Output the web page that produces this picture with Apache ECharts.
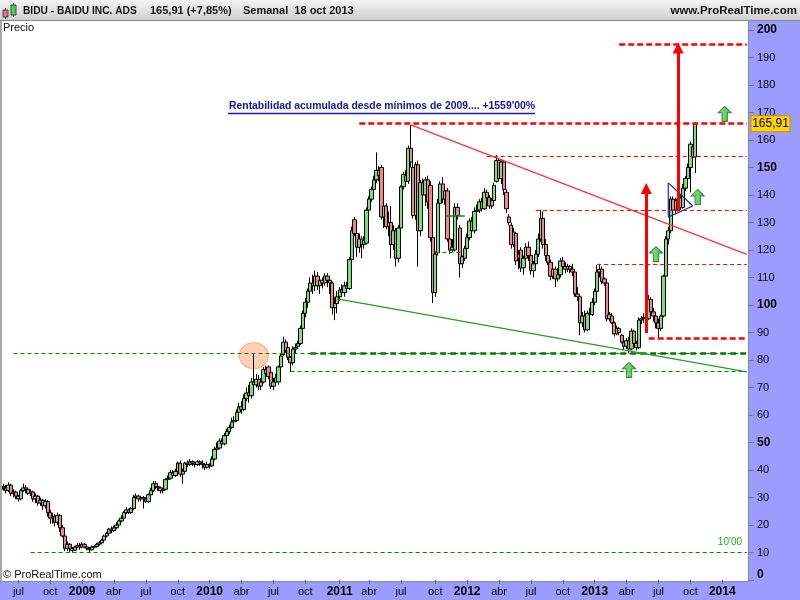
<!DOCTYPE html>
<html><head><meta charset="utf-8">
<script src="https://cdn.jsdelivr.net/npm/echarts/dist/echarts.min.js"></script>
<style>html,body{margin:0;padding:0;background:#fff}#c{width:800px;height:600px}</style>
</head><body><div id="c"></div>
<script>
// ---------- DATA ----------
const firstWeek = [2008, 4, 16];   // first weekly bar (Friday 16 May 2008)
const weekTotal = 305;             // weekly categories shown on the axis (incl. empty future weeks)
const monthNames = {4: 'abr', 7: 'jul', 10: 'oct'};
const lastClose = 165.91;

// weekly candles: [open, close, low, high]
const candles = [
[33,34,32,35],[34,33.5,32.5,35],[33.5,32.5,31.5,34.5],[32.5,34.5,32,35.5],[34.5,31.5,30.5,35],
[31.5,32,30,33],[32,30.5,29.5,32.5],[30.5,29.5,28.5,31],[29.5,32.5,29,33],[32.5,33.5,32,35],
[33.5,33,31.5,34.5],[33,31.5,31,33.5],[31.5,32,30.5,33],[32,29.5,28.5,32.5],[29.5,30.5,28,31.5],
[30.5,28,27,31],[28,29,27,30],[29,27,25.5,29.5],[27,28.5,26,29.5],[28.5,24.5,23,29],
[24.5,22.5,20.5,25.5],[22.5,23,20.5,24.5],[23,21,19.5,24],[21,23.5,20,24.5],[23.5,19,17.5,24],
[19,16,15.5,20],[16,11.5,10.5,16.5],[11.5,13,10.5,14],[13,11.5,10,13.5],[11.5,10.8,10,12],
[10.8,12,10.5,12.5],[12,12.5,11.5,13.5],[12.5,12,11,13.5],[12,13,11.5,13.8],[13,12,11.5,13.5],
[12,11.5,10.8,12.5],[11.5,11,10.2,12],[11,12,10.8,12.5],[12,12.2,11.5,12.8],[12.2,13,11.8,13.5],
[13,13.5,12.5,14.2],[13.5,14.5,13,15],[14.5,16,14,16.5],[16,17,15.5,17.5],[17,18.5,16.5,19],
[18.5,18,17,19.5],[18,19,17.5,19.8],[19,20,18.5,21],[20,21.5,19.5,22],[21.5,22.5,21,23.5],
[22.5,24.5,22,25],[24.5,25.5,24,26.5],[25.5,24.5,24,26],[24.5,26,24,26.5],[26,30,25.5,31],
[30,30.5,29,31.5],[30.5,29.5,28.5,31],[29.5,30,28.5,30.5],[30,29.5,26,30.5],[29.5,28.5,28,30],
[28.5,31,28,31.5],[31,32.5,30.5,33.5],[32.5,35,32,36],[35,34,33,36],[34,33.5,32.5,35],
[33.5,32.5,31.5,34],[32.5,33,31.5,33.5],[33,36.5,32.5,37],[36.5,37,35.5,38],[37,39,36.5,40],
[39,38,37,40],[38,39.5,37.5,40.5],[39.5,42.5,39,43],[42.5,38.5,37.5,43.5],[38.5,39.5,35,40.5],
[39.5,42.5,39,43],[42.5,42,41,43.5],[42,43,41.5,44],[43,42.5,41.5,43.5],[42.5,42,41,43],
[42,43,41.5,43.5],[43,42.5,41.5,43.5],[42.5,42,40.5,43.5],[42,41,40,42.5],[41,42,40.5,43],
[42,41.5,40.5,42.5],[41.5,44,41,45],[44,47.5,43.5,48.5],[47.5,48,46.5,50],[48,50.5,47.5,51.5],
[50.5,49.5,48.5,51.5],[49.5,52.5,49,53.5],[52.5,54,51.5,55],[54,55.5,53,56.5],[55.5,57.5,55,59],
[57.5,58,56,59.5],[58,61,57.5,62],[61,63,60,64.5],[63,62,60.5,65],[62,66,61.5,67.5],
[66,68,65,70],[68,67,64.5,71],[67,72,66,73.5],[72,71,69,82.5],[71,73,70,75],
[73,70.5,69,74.5],[70.5,72,69,73.5],[72,76.5,71.5,77.5],[76.5,75,74,78],[77.5,74,73,78],
[75.5,70.5,69.5,76],[70.5,72,69,73.5],[72,73.5,71,75],[72,77.5,71,78],[77.5,81.5,77,82.5],
[82,86.5,81.5,88.5],[86.5,83.5,82.5,87.5],[84.5,81,80,85.5],[81,79,75.6,81.5],[79,84,78,85],
[84,84.5,82.5,86],[85,86,84.5,87],[86,91.5,85.5,92.5],[91.5,97,90.5,98],[97,101,95.5,102.5],
[101,105,99,106],[105,108,103.5,110],[108,107,104,111],[107,110.5,105,112.5],[110.5,107,105.5,112],
[107,109,104,110.5],[109,108,106,110],[108,110.5,107,111.5],[110.5,109,106.5,111.5],[109,108,104,110],
[108,99,96.5,108.5],[99,100.5,94.5,103],[100.5,103,97,105],[103,105.5,101.5,106.5],[105.5,104.5,103,107.5],
[104.5,107,103,108.5],[107,106,104.5,108.5],[106,116.5,105.5,117.5],[116.5,127,115.5,128.5],[131,126,125,132],
[126,121,117.5,126.5],[121,124,119,126],[124,122,117,125],[122,123.5,120.5,125],[122.5,134.5,122,135.5],
[134.5,138.5,134,139.5],[138.5,142,137.5,143],[142,145.5,141,147],[145.5,149,144.5,155.5],[149,147,145,150.5],
[150,132,131,151],[132,136,128,137.5],[136,128.5,127.5,137],[128.5,130,125,134],[130,122,117,136],
[122,127,120,129],[127,117,114,128],[117,128,115.5,129],[128,143,127,143.5],[143,147.5,142,148.5],
[147,145,143.5,149],[145,157,144,158],[157,152,150,165.5],[150,132.5,131.5,152],[132.5,151,131,152],
[151,127,114,152.5],[127,144.5,125,145.5],[144.5,140,138,146],[140,145.5,136,146.5],[145.5,137.5,135,147],
[143.5,124.5,123,145],[124.5,104.5,100.7,125.5],[104.5,118.5,103,119.5],[119,137,118,138.5],[137,144,133,145],
[144,138.5,137,146.5],[138.5,141.5,136.5,143],[141.5,124,123,142.5],[124,120,118.5,125],[121,120,119,124],
[120,135.5,119.5,137],[135.5,132.5,131,137],[128,115,110,129],[115,117.5,113.5,118],[117,120.5,116,121.5],
[120.5,124.5,119.5,126],[124.5,130.5,123.5,131.5],[130.5,127,125,132],[127,134,126,135.5],[134,134.5,132,136.5],
[134.5,137.5,133.5,138.5],[137.5,135,134,139],[135,141,134.5,142.5],[141,139,137,142],[139,136,135,140],
[136,138,135,139],[138,143.5,137,144.5],[145,152.5,144.5,154.5],[152.5,146,145,153.5],[146,152,144,153],
[152,142,140,152.5],[141,135,133.5,142],[132,130,129,133],[129,122,120.5,130],[122,126.5,121,128],
[126,116,114.5,126.5],[117,118.5,113,120],[120,113.5,112,121],[113.5,117,111,118],[117,121,115,122.5],
[121,118,116,123],[118,112.5,111,119],[112.5,115,110,116],[115,118.5,113.5,120],[118.5,124,117.5,126],
[124,131.5,123,134.5],[131.5,122,120.5,134],[122,118,116,124],[118,115.5,114.5,120],[115.5,110.5,109,116.5],
[110.5,113,109.5,114],[113,109.5,106.5,114],[109.5,111,108.5,113.5],[111,116,110,117],[116,114,112,117.5],
[114,113,111.5,115.5],[113,114,112,115],[114,113,111.5,114.5],[113,112,110.5,115],[112,104,103,112.5],
[104,103,101.5,106.5],[103,93.5,89,104],[93.5,96,92,97.5],[96,91,90,98],[91,97,90.5,98],
[97,96.5,95,99],[96.5,101,96,102.5],[101,105,100,106],[105,112,104.5,114.5],[112,113,110,115],
[113,108.5,107.5,114],[109.5,108,107,110],[108,95,94,108.5],[95,96.5,94,97.5],[96,93.5,93,97],
[93.5,89.5,88.5,94],[89.5,91.5,89,92.5],[91.5,90,89,92],[89,86.5,86,89.5],[86.5,85,83.6,87.5],
[85,87,84,88],[87,84,82.5,88.5],[84,90.5,83.5,91.5],[90.5,86,84.5,91],[86,84.5,83.5,87],
[84.5,94.5,84,95.5],[94.5,95,93,96],[95,95.5,93.5,97],[95.5,95,93,97],[95,102,94.5,103.6],
[102,97.5,96.5,103],[97.5,96,94,99],[96,93.5,91.5,97],[93.5,91.5,88,95],[91.5,96,90.5,96.5],
[96,110.5,95.5,111],[110.5,124,110,125],[124,127,122,128.5],[127,138.5,126,139.5],[138.5,134.5,132.5,139.5],
[138,134.5,133,139],[134.5,138.5,134,140],[139,135.5,134.5,140],[135.5,142.5,135,144],[142.5,146,141.5,147],
[146,150,144.5,151.5],[150,158.5,141,159.5],[157.5,153.8,153,158.5],[153.8,165.91,148,166.5]
];

// horizontal levels drawn on the chart (value, first week index, last week index, kind)
const levelValues = [195, 165.91, 154, 134.5, 115, 88, 82.5, 82.5, 76, 10, 132.6, 119.2];
const levelStarts = [252, 146, 198, 218, 243, 264, 5, 126, 118, 12, 181, 177];
const levelEnds   = [304, 304, 304, 304, 304, 304, 304, 304, 304, 304, 189, 188];
const levelKinds  = ['redThick','redThick','redThin','redThin','redThin','redThick','greenThin','greenThick','greenThin','greenThin','greenSolid','greenThin'];

// trend lines: [startWeek, startValue, endWeek, endValue]
const trendRed   = [167, 165.5, 304, 118.4];
const trendGreen = [137, 102.2, 304, 75.7];

// vertical target arrows
const arrowWeeks = [263, 276];
const arrowFrom  = [89.8, 134];
const arrowTo    = [142.4, 193.5];

// green "buy" arrows
const buyWeeks  = [256, 267, 284, 295];
const buyValues = [76.4, 118.5, 139.3, 169.5];

// blue triangle (pennant)
const triWeeks  = [272, 282, 272, 272];
const triValues = [144.4, 136, 132, 144.4];

// highlighted 2010 high
const circleWeek = 103, circleValue = 81.6;

// ---------- BUILD ----------
function buildWeeks() {
  const out = [];
  const t0 = Date.UTC(firstWeek[0], firstWeek[1], firstWeek[2]);
  for (let k = 0; k < weekTotal; k++) out.push(new Date(t0 + k * 7 * 864e5).toISOString().slice(0, 10));
  return out;
}
const weeks = buildWeeks();
function isQuarterStart(v) {
  const m = +v.slice(5, 7), d = +v.slice(8, 10);
  return d <= 7 && (m === 1 || m === 4 || m === 7 || m === 10);
}
function fmtX(v) {
  const m = +v.slice(5, 7);
  if (m === 1) return '{y|' + v.slice(0, 4) + '}';
  return monthNames[m] || '';
}

const FONT = '"Liberation Sans", Arial, sans-serif';
const styles = {
  redThick:  {color: '#ff0000', width: 2.5, type: [6, 3]},
  redThin:   {color: '#ff0000', width: 1,   type: [4, 3]},
  greenThin: {color: '#008800', width: 1.2, type: [4, 3]},
  greenThick:{color: '#007700', width: 2.5, type: [6, 4]},
  greenSolid:{color: '#118811', width: 1.5, type: 'solid'}
};

const markData = [];
levelValues.forEach((v, k) => {
  markData.push([{coord: [levelStarts[k], v], lineStyle: styles[levelKinds[k]], symbol: 'none'},
                 {coord: [levelEnds[k], v], symbol: 'none'}]);
});
markData.push([{coord: [trendRed[0], trendRed[1]], lineStyle: {color: '#ff3333', width: 1.2, type: 'solid'}, symbol: 'none'},
               {coord: [trendRed[2], trendRed[3]], symbol: 'none'}]);
markData.push([{coord: [trendGreen[0], trendGreen[1]], lineStyle: {color: '#2a9a2a', width: 1.2, type: 'solid'}, symbol: 'none'},
               {coord: [trendGreen[2], trendGreen[3]], symbol: 'none'}]);
arrowWeeks.forEach((w, k) => {
  markData.push([{coord: [w, arrowFrom[k]], lineStyle: {color: '#ff0000', width: 3, type: 'solid'}, symbol: 'none'},
                 {coord: [w, arrowTo[k]], symbol: 'triangle', symbolSize: 11}]);
});

const chart = echarts.init(document.getElementById('c'), null, {renderer: 'canvas', width: 800, height: 600});

const baseGraphics = [
  {type: 'rect', z: -5, shape: {x: 0, y: 0, width: 800, height: 20},
   style: {fill: new echarts.graphic.LinearGradient(0, 0, 0, 1, [{offset: 0, color: '#f4f4f4'}, {offset: 1, color: '#cfcfcf'}])}},
  {type: 'line', z: -4, shape: {x1: 0, y1: 20.5, x2: 800, y2: 20.5}, style: {stroke: '#8a8a8a', lineWidth: 1}},
  {type: 'rect', z: -5, shape: {x: 748, y: 21, width: 52, height: 579}, style: {fill: '#9c9cff'}},
  {type: 'rect', z: -5, shape: {x: 0, y: 581, width: 800, height: 19}, style: {fill: '#9c9cff'}},
  {type: 'line', z: -4, shape: {x1: 748.5, y1: 21, x2: 748.5, y2: 581}, style: {stroke: '#8888aa', lineWidth: 1}},
  {type: 'line', z: -4, shape: {x1: 0, y1: 581.5, x2: 749, y2: 581.5}, style: {stroke: '#8888aa', lineWidth: 1}},
  {type: 'rect', z: 50, shape: {x: 0, y: 21, width: 2, height: 560}, style: {fill: '#a8a8a8'}},
  // header icon
  {type: 'line', z: 50, shape: {x1: 5.5, y1: 8, x2: 5.5, y2: 19}, style: {stroke: '#333', lineWidth: 1}},
  {type: 'rect', z: 51, shape: {x: 3, y: 10, width: 5, height: 7}, style: {fill: '#f07070', stroke: '#444', lineWidth: 1}},
  {type: 'line', z: 50, shape: {x1: 13.5, y1: 3, x2: 13.5, y2: 17}, style: {stroke: '#333', lineWidth: 1}},
  {type: 'rect', z: 51, shape: {x: 11, y: 5, width: 5, height: 10}, style: {fill: '#50d050', stroke: '#444', lineWidth: 1}},
  {type: 'text', z: 50, style: {x: 23, y: 11, text: 'BIDU - BAIDU INC. ADS', fill: '#111', font: 'bold 10.2px ' + FONT, verticalAlign: 'middle'}},
  {type: 'text', z: 50, style: {x: 150, y: 11, text: '165,91 (+7,85%)', fill: '#111', font: 'bold 11px ' + FONT, verticalAlign: 'middle'}},
  {type: 'text', z: 50, style: {x: 243, y: 11, text: 'Semanal  18 oct 2013', fill: '#111', font: 'bold 11px ' + FONT, verticalAlign: 'middle'}},
  {type: 'text', z: 50, style: {x: 797, y: 11, text: 'www.ProRealTime.com', fill: '#111', font: 'bold 11.5px ' + FONT, align: 'right', verticalAlign: 'middle'}},
  {type: 'text', z: 50, style: {x: 3, y: 28, text: 'Precio', fill: '#111', font: '11px ' + FONT, verticalAlign: 'middle'}},
  {type: 'text', z: 50, style: {x: 3, y: 575, text: '© ProRealTime.com', fill: '#111', font: '11px ' + FONT, verticalAlign: 'middle'}},
  {type: 'text', z: 50, style: {x: 229, y: 106, text: "Rentabilidad acumulada desde mínimos de 2009.... +1559'00%", fill: '#14149a', font: 'bold 10.4px ' + FONT, verticalAlign: 'middle'}},
  {type: 'line', z: 50, shape: {x1: 228, y1: 113.5, x2: 535, y2: 113.5}, style: {stroke: '#1a1aa0', lineWidth: 1.5}}
];

chart.setOption({
  animation: false,
  backgroundColor: '#ffffff',
  grid: {left: 0, right: 52, top: 30, bottom: 20},
  xAxis: {
    type: 'category', data: weeks, boundaryGap: true,
    axisLine: {show: false},
    axisTick: {show: true, interval: (i, v) => isQuarterStart(v), alignWithLabel: true, length: 4, lineStyle: {color: '#666'}},
    axisLabel: {interval: (i, v) => isQuarterStart(v), formatter: fmtX, margin: 6, color: '#000', fontSize: 11, fontFamily: FONT,
      rich: {y: {fontSize: 12, fontWeight: 'bold', color: '#000', fontFamily: FONT}}},
    splitLine: {show: false}
  },
  yAxis: {
    type: 'value', position: 'right', min: 0, max: 200, interval: 10, scale: false,
    axisLine: {show: false},
    axisTick: {show: true, length: 6, lineStyle: {color: '#777'}},
    splitLine: {show: false},
    axisLabel: {margin: 9, color: '#000', fontSize: 11, fontFamily: FONT,
      formatter: v => v === 0 ? '{z|0}' : (v % 50 === 0 ? '{b|' + v + '}' : String(v)),
      rich: {b: {fontSize: 12, fontWeight: 'bold', fontFamily: FONT, color: '#000'},
             z: {fontSize: 12, fontWeight: 'bold', fontFamily: FONT, color: '#000', padding: [0, 0, 10, 0]}}}
  },
  graphic: baseGraphics,
  series: [
    {
      name: 'circle', type: 'scatter', z: 1, silent: true,
      data: [[circleWeek, circleValue]], symbol: 'circle', symbolSize: [29, 26],
      itemStyle: {color: 'rgba(255,190,150,0.9)', borderColor: '#f29a66', borderWidth: 1}
    },
    {
      name: 'BIDU', type: 'candlestick', z: 2, silent: true,
      data: candles, barWidth: 3.8,
      itemStyle: {color: '#78e078', color0: '#f08888', borderColor: '#000', borderColor0: '#000', borderWidth: 1},
      markLine: {silent: true, symbol: 'none', label: {show: false}, emphasis: {disabled: true}, data: markData}
    },
    {
      name: 'triangle', type: 'line', z: 4, silent: true, symbol: 'none',
      data: triWeeks.map((w, k) => [w, triValues[k]]),
      lineStyle: {color: '#2424b8', width: 1.2}
    },
    {
      name: 'buy', type: 'scatter', z: 5, silent: true,
      data: buyWeeks.map((w, k) => [w, buyValues[k]]),
      symbol: 'path://M6,0 L12,6 L8.5,6 L8.5,14 L3.5,14 L3.5,6 L0,6 Z', symbolSize: [13, 15],
      itemStyle: {color: new echarts.graphic.LinearGradient(0, 0, 1, 0, [{offset: 0, color: '#70e070'}, {offset: 1, color: '#22aa22'}]),
                  borderColor: '#1a6e1a', borderWidth: 1}
    }
  ]
});

// labels placed through the axis scales
const yLast = chart.convertToPixel({yAxisIndex: 0}, lastClose);
const yTen = chart.convertToPixel({yAxisIndex: 0}, 10);
chart.setOption({graphic: baseGraphics.concat([
  {type: 'rect', z: 60, shape: {x: 751, y: yLast - 8, width: 39, height: 16},
   style: {fill: '#ffd400', stroke: '#b89400', lineWidth: 1}},
  {type: 'text', z: 61, style: {x: 770.5, y: yLast, text: '165,91', fill: '#000', font: '12px ' + FONT, align: 'center', verticalAlign: 'middle'}},
  {type: 'text', z: 50, style: {x: 742, y: yTen - 10, text: "10'00", fill: '#1faa1f', font: '10px ' + FONT, align: 'right', verticalAlign: 'middle'}}
])});
</script></body></html>
